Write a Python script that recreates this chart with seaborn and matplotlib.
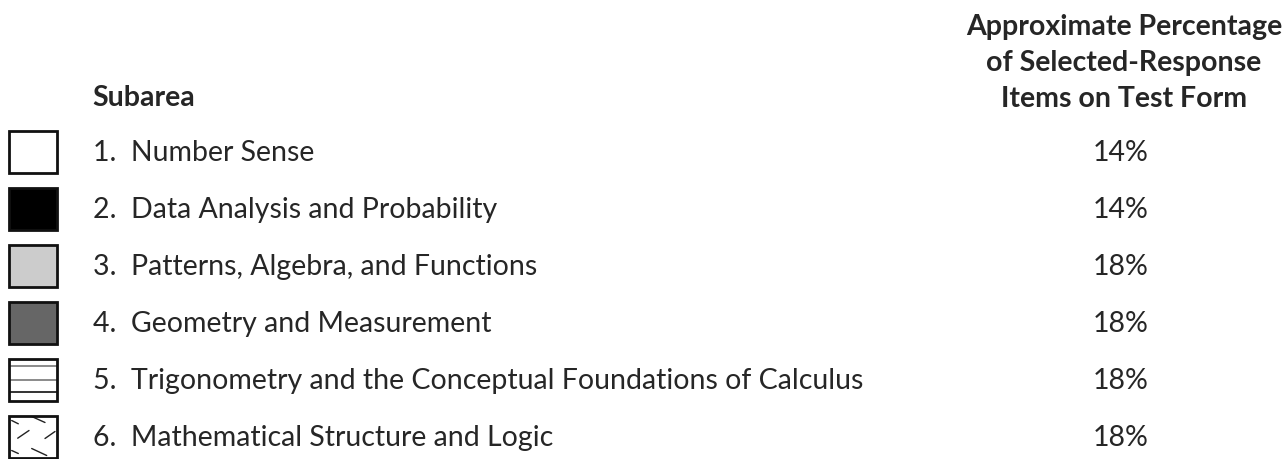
import matplotlib
matplotlib.use('Agg')
import matplotlib.pyplot as plt
from matplotlib.patches import Rectangle
import seaborn as sns

# table content
subareas = ['Number Sense',
            'Data Analysis and Probability',
            'Patterns, Algebra, and Functions',
            'Geometry and Measurement',
            'Trigonometry and the Conceptual Foundations of Calculus',
            'Mathematical Structure and Logic']
percentages = [14, 14, 18, 18, 18, 18]
swatch_fills = ['white', 'black', '#cccccc', '#666666', 'white', 'white']
swatch_pattern = [None, None, None, None, 'lines', 'dashes']
header_left = 'Subarea'
header_right = ['Approximate Percentage', 'of Selected-Response', 'Items on Test Form']

sns.set_theme(style='white')
plt.rcParams['font.family'] = ['Lato', 'DejaVu Sans']

fig = plt.figure(figsize=(12.85, 4.6), dpi=100)
ax = fig.add_axes([0, 0, 1, 1])
ax.set_xlim(0, 1285)
ax.set_ylim(460, 0)
ax.axis('off')

FS = 20.5
row0 = 152.5
row_gap = 57
sw_x, sw_w, sw_h = 9, 48, 42
pct_x = 1121

ax.text(92, 106, header_left, fontsize=FS, fontweight='bold', va='baseline', ha='left')
for i, line in enumerate(header_right):
    ax.text(pct_x + 3, 35 + i * 36, line, fontsize=FS, fontweight='bold',
            va='baseline', ha='center')

for i, (name, pct) in enumerate(zip(subareas, percentages)):
    y = row0 + i * row_gap
    top = y - sw_h / 2
    # fill first, pattern on top, border last
    ax.add_patch(Rectangle((sw_x, top), sw_w, sw_h, facecolor=swatch_fills[i],
                           edgecolor='none', zorder=1))
    if swatch_pattern[i] == 'lines':
        for frac, col in [(0.17, '#777777'), (0.5, '#777777'), (0.8, '#111111')]:
            ax.plot([sw_x, sw_x + sw_w], [top + frac * sw_h] * 2, color=col,
                    linewidth=1.2, zorder=2, solid_capstyle='butt')
    elif swatch_pattern[i] == 'dashes':
        segs = [((2.7, 5), (9.3, 8.3)), ((22.7, 1), (36, 7)), ((8.7, 22.7), (20, 15)),
                ((36, 23), (46, 16)), ((2.7, 35), (9.3, 38)), ((22.7, 33), (37.7, 40))]
        for (x0, y0), (x1, y1) in segs:
            ax.plot([sw_x + x0, sw_x + x1], [top + y0, top + y1], color='#222222',
                    linewidth=1, zorder=2)
    ax.add_patch(Rectangle((sw_x, top), sw_w, sw_h, facecolor='none',
                           edgecolor='#111111', linewidth=2, zorder=3))
    ax.text(93, y + 9, f'{i + 1}.  {name}', fontsize=FS, va='baseline', ha='left')
    ax.text(pct_x, y + 9, f'{pct}%', fontsize=FS, va='baseline', ha='center')

fig.savefig('out.png', dpi=100)
